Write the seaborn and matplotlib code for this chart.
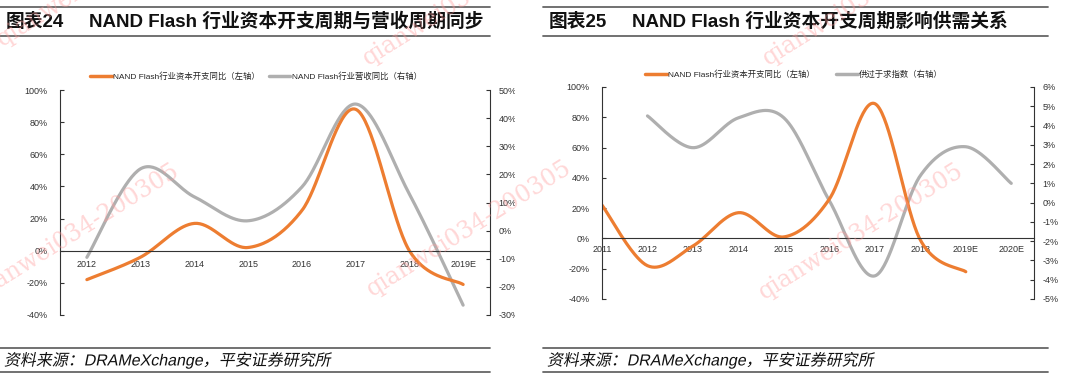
import numpy as np
import matplotlib
matplotlib.use('Agg')
import matplotlib.pyplot as plt
import seaborn as sns
from matplotlib.lines import Line2D
from matplotlib.ticker import FixedLocator, FuncFormatter
from matplotlib.transforms import Affine2D, Bbox, TransformedBbox
from matplotlib.patheffects import AbstractPathEffect

sns.set_style("white")
plt.rcParams['font.family'] = ['Liberation Sans', 'Noto Sans CJK SC']
plt.rcParams['axes.unicode_minus'] = False

# ---- data ----
years_24 = ['2012', '2013', '2014', '2015', '2016', '2017', '2018', '2019E']
capex_24 = [-18, -4, 17, 2, 25, 88, 0, -21]            # left axis, %
revenue_24 = [-9.5, 22, 12, 3.5, 15.5, 45, 13, -26.5]  # right axis, %

years_25 = ['2011', '2012', '2013', '2014', '2015', '2016', '2017', '2018', '2019E', '2020E']
capex_25 = [22, -18, -5, 17, 1, 26, 89, -1, -22]                   # 2011-2019E, left axis
oversupply_25 = [4.5, 2.85, 4.4, 4.4, 0.1, -3.8, 1.4, 2.9, 1.0]    # 2012-2020E, right axis

ORANGE = '#ED7D31'
GRAY = '#AFAFAF'
DARK = '#333333'
W, H = 1080, 375


def smooth(x, y, n=40):
    # Excel style smoothed line (Catmull-Rom through the points)
    x = np.asarray(x, float)
    y = np.asarray(y, float)
    px = np.concatenate([[x[0]], x, [x[-1]]])
    py = np.concatenate([[y[0]], y, [y[-1]]])
    xs, ys = [], []
    t = np.linspace(0, 1, n)
    for i in range(1, len(px) - 2):
        for p, out in ((px, xs), (py, ys)):
            p0, p1, p2, p3 = p[i - 1], p[i], p[i + 1], p[i + 2]
            out.extend(0.5 * (2 * p1 + (-p0 + p2) * t
                              + (2 * p0 - 5 * p1 + 4 * p2 - p3) * t ** 2
                              + (-p0 + 3 * p1 - 3 * p2 + p3) * t ** 3))
    return np.array(xs), np.array(ys)


class Slant(AbstractPathEffect):
    # fake italic for the CJK glyphs (Noto CJK has no italic face)
    def __init__(self, y0, k=0.2):
        super().__init__()
        self.y0, self.k = y0, k

    def draw_path(self, renderer, gc, tpath, affine, rgbFace=None):
        sk = Affine2D().translate(0, -self.y0).skew(np.arctan(self.k), 0).translate(0, self.y0)
        renderer.draw_path(gc, tpath, affine + sk, rgbFace)


def px_ax(x0, y0, x1, y1):
    return [x0 / W, 1 - y1 / H, (x1 - x0) / W, (y1 - y0) / H]


def hline(fig, x0, x1, y, lw=1.3, color='#666666'):
    fig.add_artist(Line2D([x0 / W, x1 / W], [1 - y / H, 1 - y / H],
                          color=color, lw=lw, transform=fig.transFigure))


pct = FuncFormatter(lambda v, _: f'{v:.0f}%')

fig = plt.figure(figsize=(W / 100, H / 100), dpi=100)

# ---- header / footer ----
for x0, x1, num, title in [(0, 490, '图表24', 'NAND Flash 行业资本开支周期与营收周期同步'),
                           (543, 1048, '图表25', 'NAND Flash 行业资本开支周期影响供需关系')]:
    hline(fig, x0, x1, 7)
    hline(fig, x0, x1, 36)
    hline(fig, x0, x1, 348)
    hline(fig, x0, x1, 372)
    fig.text((x0 + 6) / W, 1 - 22 / H, num, fontsize=13.5, fontweight='bold',
             va='center', ha='left', color='#111111')
    fig.text((x0 + 89) / W, 1 - 22 / H, title, fontsize=13.5, fontweight='bold',
             va='center', ha='left', color='#111111')
    fig.text((x0 + 4) / W, 1 - 360 / H, '资料来源：DRAMeXchange，平安证券研究所',
             fontsize=11.5, va='center', ha='left', color='#111111',
             path_effects=[Slant(H - 365)])


def style_axes(ax, ax2):
    for a in (ax, ax2):
        a.set_facecolor('none')
        a.spines['top'].set_visible(False)
    ax.spines['right'].set_visible(False)
    ax2.spines['bottom'].set_visible(False)
    ax2.spines['left'].set_visible(False)
    ax.spines['left'].set_color(DARK)
    ax2.spines['right'].set_color(DARK)
    ax.spines['bottom'].set_position(('data', 0))
    ax.spines['bottom'].set_color(DARK)
    ax.yaxis.set_major_formatter(pct)
    ax2.yaxis.set_major_formatter(pct)
    ax.tick_params(axis='y', direction='in', length=3, labelsize=6.5, colors=DARK, pad=9)
    ax2.tick_params(axis='y', direction='in', length=3, labelsize=6.5, colors=DARK, pad=6)
    ax.grid(False)
    ax2.grid(False)


# ---- chart 24 ----
ax = fig.add_axes(px_ax(60, 90, 490, 315))
ax2 = ax.twinx()
x24 = np.arange(len(years_24))
sx, sy = smooth(x24, capex_24)
sns.lineplot(x=sx, y=sy, ax=ax, color=ORANGE, lw=2.3, sort=False, estimator=None)
sx, sy = smooth(x24, revenue_24)
sns.lineplot(x=sx, y=sy, ax=ax2, color=GRAY, lw=2.3, sort=False, estimator=None)
ax.set_zorder(2)
ax2.set_zorder(1)
ax.set_xlim(-0.5, len(years_24) - 0.5)
ax.set_ylim(-40, 100)
ax2.set_ylim(-30, 50)
ax.set_yticks(np.arange(-40, 101, 20))
ax2.set_yticks(np.arange(-30, 51, 10))
ax.set_xticks(x24)
ax.set_xticklabels(years_24)
ax.xaxis.set_minor_locator(FixedLocator(np.arange(0.5, len(years_24) - 1, 1)))
ax.tick_params(axis='x', which='major', length=0, labelsize=6.5, colors=DARK, pad=7)
ax.tick_params(axis='x', which='minor', direction='in', length=3, color=DARK)
style_axes(ax, ax2)
clip = TransformedBbox(Bbox([[0, 0], [515 / W, 1]]), fig.transFigure)
for tk in ax2.yaxis.get_major_ticks():
    tk.label2.set_clip_box(clip)
    tk.label2.set_clip_on(True)

handles = [Line2D([], [], color=ORANGE, lw=2.5), Line2D([], [], color=GRAY, lw=2.5)]
fig.legend(handles, ['NAND Flash行业资本开支同比（左轴）', 'NAND Flash行业营收同比（右轴）'],
           loc='center', bbox_to_anchor=(256 / W, 1 - 77 / H), ncol=2, frameon=False,
           fontsize=6, handlelength=2.6, handletextpad=0.2, columnspacing=1.0)

# ---- chart 25 ----
bx = fig.add_axes(px_ax(602, 87, 1034, 299))
bx2 = bx.twinx()
x25 = np.arange(len(years_25))
sx, sy = smooth(x25[:len(capex_25)], capex_25)
sns.lineplot(x=sx, y=sy, ax=bx, color=ORANGE, lw=2.3, sort=False, estimator=None)
sx, sy = smooth(x25[1:1 + len(oversupply_25)], oversupply_25)
sns.lineplot(x=sx, y=sy, ax=bx2, color=GRAY, lw=2.3, sort=False, estimator=None)
bx.set_zorder(2)
bx2.set_zorder(1)
bx.set_xlim(0, len(years_25) - 0.5)
bx.set_ylim(-40, 100)
bx2.set_ylim(-5, 6)
bx.set_yticks(np.arange(-40, 101, 20))
bx2.set_yticks(np.arange(-5, 7, 1))
bx.set_xticks(x25)
bx.set_xticklabels(years_25)
bx.tick_params(axis='x', which='major', direction='in', length=3, labelsize=6.5,
               colors=DARK, pad=5)
style_axes(bx, bx2)

handles = [Line2D([], [], color=ORANGE, lw=2.5), Line2D([], [], color=GRAY, lw=2.5)]
fig.legend(handles, ['NAND Flash行业资本开支同比（左轴）', '供过于求指数（右轴）'],
           loc='center', bbox_to_anchor=(794 / W, 1 - 75 / H), ncol=2, frameon=False,
           fontsize=6, handlelength=2.6, handletextpad=0.2, columnspacing=2.5)

# ---- watermarks ----
for x0, y0 in [(-20, 300), (372, 297), (764, 300), (2, 47), (368, 66), (768, 66)]:
    fig.text(x0 / W, 1 - y0 / H, 'qianwei034-200305', fontsize=17, family='DejaVu Serif',
             color='#FF9A9A', alpha=0.4, rotation=32, rotation_mode='anchor',
             ha='left', va='baseline', zorder=10)

fig.savefig('out.png', dpi=100)
